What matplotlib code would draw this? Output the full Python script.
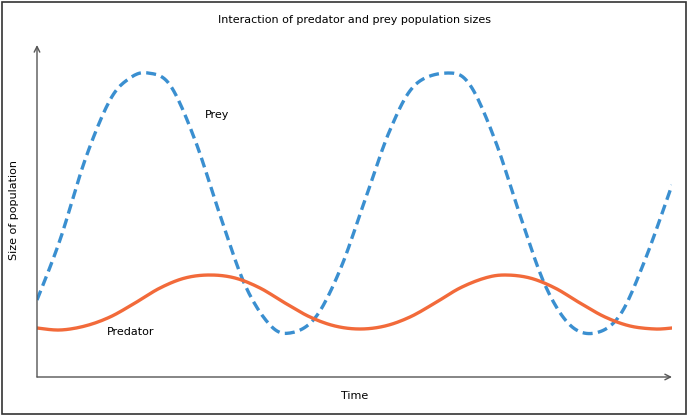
import matplotlib
matplotlib.use("Agg")
import matplotlib.pyplot as plt
import numpy as np
from matplotlib.patches import Rectangle

# Time readings and population readings (arbitrary units)
prey_t = [0, 23, 48, 73, 93, 111, 133, 158, 183, 208, 233, 253, 278, 303, 328, 353, 378, 411, 433, 458, 483, 508, 533, 558, 583, 608, 635]
prey_y = [77, 137, 217, 277, 299, 304, 292, 237, 162, 92, 52, 44, 59, 107, 177, 247, 292, 304, 292, 237, 162, 92, 52, 44, 62, 117, 192]
pred_t = [0, 23, 48, 73, 98, 123, 148, 173, 198, 223, 248, 273, 298, 323, 348, 373, 398, 423, 448, 468, 493, 518, 543, 568, 593, 618, 635]
pred_y = [49, 47, 51, 60, 74, 89, 99, 102, 99, 89, 74, 60, 51, 48, 51, 60, 74, 89, 99, 102, 99, 89, 74, 60, 51, 48, 49]

def smooth(x, y, n=12):
    p = np.column_stack([x, y]).astype(float)
    p = np.vstack([p[0], p, p[-1]])
    out = []
    s = np.linspace(0, 1, n, endpoint=False)[:, None]
    for i in range(1, len(p) - 2):
        p0, p1, p2, p3 = p[i-1], p[i], p[i+1], p[i+2]
        out.append(0.5 * ((2*p1) + (-p0 + p2)*s + (2*p0 - 5*p1 + 4*p2 - p3)*s**2 + (-p0 + 3*p1 - 3*p2 + p3)*s**3))
    out.append(p[-2][None, :])
    o = np.vstack(out)
    return o[:, 0], o[:, 1]

W, H = 688, 416
fig = plt.figure(figsize=(W/100, H/100), dpi=100)
fig.patches.append(Rectangle((2/W, 2/H), 1-4/W, 1-4/H, transform=fig.transFigure,
                             fill=False, edgecolor="#333333", linewidth=1.2))
ax = fig.add_axes([37/W, (416-377)/H, 635/W, 332/H])
ax.plot(*smooth(prey_t, prey_y), color="#3a8fd0", linestyle=(0, (3, 1.6)), linewidth=2.4)
ax.plot(*smooth(pred_t, pred_y), color="#f26a3a", linewidth=2.4)
ax.set_xlim(0, 635)
ax.set_ylim(0, 332)
for s in ["top", "right", "left", "bottom"]:
    ax.spines[s].set_visible(False)
ax.set_xticks([]); ax.set_yticks([])
ax.annotate("", xy=(1.0, 0), xytext=(0, 0), xycoords="axes fraction",
            arrowprops=dict(arrowstyle="->", color="#555555", lw=1, shrinkA=0, shrinkB=0))
ax.annotate("", xy=(0, 1.0), xytext=(0, 0), xycoords="axes fraction",
            arrowprops=dict(arrowstyle="->", color="#555555", lw=1, shrinkA=0, shrinkB=0))
fig.text(355/W, 1-20/H, "Interaction of predator and prey population sizes", ha="center", va="center", fontsize=8)
fig.text(205/W, 1-115/H, "Prey", ha="left", va="center", fontsize=8)
fig.text(107/W, 1-332/H, "Predator", ha="left", va="center", fontsize=8)
fig.text(355/W, 1-396/H, "Time", ha="center", va="center", fontsize=8)
fig.text(14/W, 1-210/H, "Size of population", ha="center", va="center", rotation=90, fontsize=8)
fig.savefig("out.png", dpi=100)
